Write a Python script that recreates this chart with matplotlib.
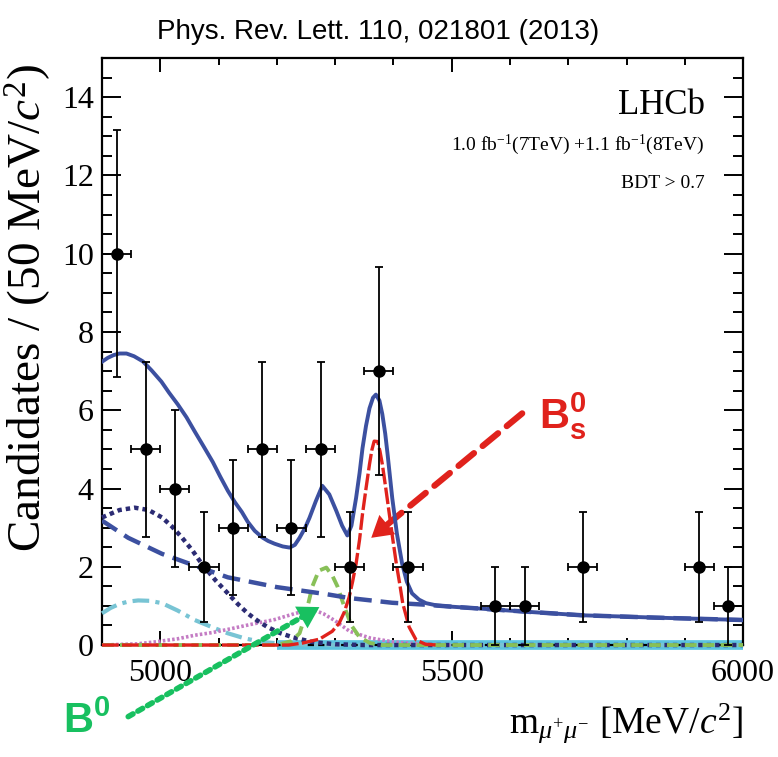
import numpy as np
import matplotlib
matplotlib.use("Agg")
import matplotlib.pyplot as plt
from matplotlib.ticker import MultipleLocator

plt.rcParams['font.family'] = ['Liberation Serif', 'DejaVu Serif']
plt.rcParams['mathtext.fontset'] = 'custom'
plt.rcParams['mathtext.rm'] = 'Liberation Serif'
plt.rcParams['mathtext.it'] = 'Liberation Serif:italic'
plt.rcParams['mathtext.bf'] = 'Liberation Sans:bold'

# 数据点 (50 MeV 一个bin)
bin_centers = [4925, 4975, 5025, 5075, 5125, 5175, 5225, 5275, 5325, 5375,
               5425, 5575, 5625, 5725, 5925, 5975]
counts = [10, 5, 4, 2, 3, 5, 3, 5, 2, 7, 2, 1, 1, 2, 2, 1]
count_err = [3.16, 2.24, 2.0, 1.41, 1.73, 2.24, 1.73, 2.24, 1.41, 2.65,
             1.41, 1.0, 1.0, 1.41, 1.41, 1.0]
bin_half = [25] * len(bin_centers)

# 总拟合曲线
total_x = [4900, 4910, 4920, 4930, 4942, 4955, 4970, 4985, 5002, 5015, 5030,
           5045, 5059, 5075, 5090, 5103, 5116, 5128, 5140, 5150, 5162, 5175,
           5185, 5196, 5210, 5222, 5231, 5239, 5248, 5256, 5267, 5278, 5290,
           5302, 5312, 5321, 5328, 5336, 5342, 5347, 5353, 5359, 5365, 5370,
           5376, 5381, 5386, 5390, 5398, 5406, 5415, 5423, 5432, 5444, 5456,
           5475, 5500, 5550, 5600, 5660, 5724, 5790, 5850, 5925, 6000]
total_y = [7.24, 7.34, 7.41, 7.45, 7.45, 7.38, 7.25, 7.02, 6.73, 6.45, 6.15,
           5.82, 5.46, 5.06, 4.68, 4.30, 3.94, 3.65, 3.40, 3.15, 2.92, 2.75,
           2.66, 2.59, 2.52, 2.49, 2.56, 2.74, 2.98, 3.25, 3.68, 4.07, 3.85,
           3.43, 3.05, 2.80, 3.05, 3.76, 4.40, 5.03, 5.60, 6.05, 6.32, 6.40,
           6.25, 5.90, 5.40, 4.88, 3.76, 2.85, 2.08, 1.62, 1.32, 1.16, 1.07,
           1.01, 0.98, 0.93, 0.88, 0.82, 0.76, 0.73, 0.70, 0.67, 0.64]

# 组合本底 (长虚线)
comb_x = [4900, 4945, 5003, 5059, 5116, 5153, 5200, 5285, 5325, 5398, 5456,
          5500, 5600, 5724, 5850, 6000]
comb_y = [3.18, 2.74, 2.33, 2.03, 1.73, 1.62, 1.48, 1.30, 1.20, 1.08, 1.03,
          0.98, 0.88, 0.76, 0.70, 0.64]

# 深蓝点线
semi_x = [4900, 4930, 4956, 4980, 5003, 5020, 5037, 5055, 5071, 5095, 5116,
          5133, 5150, 5167, 5184, 5205, 5227, 5260, 5300, 5350, 6000]
semi_y = [3.26, 3.45, 3.51, 3.45, 3.26, 3.03, 2.75, 2.42, 2.08, 1.65, 1.32,
          1.05, 0.81, 0.62, 0.46, 0.31, 0.20, 0.08, 0.02, 0.0, 0.0]

# 青色点划线
cyan_x = [4900, 4915, 4930, 4945, 4962, 4982, 5003, 5030, 5059, 5090, 5116,
          5145, 5174, 5220, 5260, 6000]
cyan_y = [0.81, 0.95, 1.05, 1.11, 1.14, 1.13, 1.07, 0.88, 0.64, 0.45, 0.30,
          0.17, 0.08, 0.02, 0.0, 0.0]

# 紫色点线
mag_x = [4900, 4960, 4991, 5030, 5059, 5090, 5116, 5153, 5196, 5230, 5245,
         5256, 5268, 5280, 5300, 5325, 5360, 5400, 5450, 5500]
mag_y = [0.0, 0.03, 0.08, 0.16, 0.25, 0.32, 0.40, 0.52, 0.65, 0.80, 0.86,
         0.89, 0.87, 0.80, 0.62, 0.35, 0.18, 0.08, 0.02, 0.0]

# B0 信号 (绿色)
bd_x = [4900, 5200, 5225, 5239, 5250, 5261, 5272, 5285, 5296, 5304, 5316,
        5328, 5342, 5360, 5380, 6000]
bd_y = [0.0, 0.0, 0.10, 0.30, 0.81, 1.50, 1.90, 1.98, 1.75, 1.50, 0.97,
        0.50, 0.20, 0.05, 0.0, 0.0]

# Bs 信号 (红色)
bs_x = [4900, 5220, 5244, 5273, 5295, 5307, 5316, 5324, 5330, 5336, 5342,
        5347, 5353, 5359, 5363, 5367, 5373, 5377, 5381, 5387, 5393, 5399,
        5405, 5411, 5416, 5427, 5439, 5455, 5475]
bs_y = [0.0, 0.0, 0.05, 0.15, 0.35, 0.56, 0.85, 1.22, 1.62, 2.08, 2.70,
        3.35, 4.00, 4.62, 4.98, 5.21, 5.20, 4.95, 4.62, 4.00, 3.35, 2.70,
        2.08, 1.55, 1.07, 0.46, 0.13, 0.02, 0.0]

# 零线上的其它本底
band_x = [5200, 6000]
band_y = [0.0, 0.0]

# 箭头位置 (数据坐标)
bs_tip, bs_tail = (5362, 2.74), (5621, 5.92)
bd_tip, bd_tail = (5273, 0.97), (4945, -1.83)

blue = '#3c50a0'
red = '#e0221c'
green = '#18c060'

fig = plt.figure(figsize=(7.78, 7.57), dpi=100)
ax = fig.add_axes([0.1311, 0.1479, 0.824, 0.7754])

ax.plot(band_x, band_y, color='#5cc4e0', lw=7, solid_capstyle='butt',
        clip_on=False, zorder=2)
ax.plot(cyan_x, cyan_y, color='#78c4d4', lw=3, ls=(0, (4, 1.5, 1, 1.5)),
        clip_on=False, zorder=3)
ax.plot(mag_x, mag_y, color='#c47cc4', lw=2.6, ls=(0, (0.7, 0.6)),
        clip_on=False, zorder=3)
ax.plot(semi_x, semi_y, color='#2c2c74', lw=3.2, ls=(0, (1, 0.9)),
        clip_on=False, zorder=3)
ax.plot(bd_x, bd_y, color='#88c058', lw=2.8, ls=(0, (3, 1.6)),
        clip_on=False, zorder=3)
ax.plot(bs_x, bs_y, color=red, lw=2.4, ls=(0, (5, 1)),
        clip_on=False, zorder=3)
ax.plot(comb_x, comb_y, color=blue, lw=3.2, ls=(0, (4, 2)), zorder=3)
ax.plot(total_x, total_y, color=blue, lw=2.8, solid_joinstyle='round',
        zorder=4)

ax.errorbar(bin_centers, counts, yerr=count_err, xerr=bin_half, fmt='o',
            color='black', markersize=8, elinewidth=1.3, capsize=3,
            capthick=1.3, zorder=5)

ax.set_xlim(4900, 6000)
ax.set_ylim(0, 15)
ax.xaxis.set_major_locator(MultipleLocator(500))
ax.xaxis.set_minor_locator(MultipleLocator(100))
ax.yaxis.set_major_locator(MultipleLocator(2))
ax.yaxis.set_minor_locator(MultipleLocator(0.5))
ax.tick_params(which='both', direction='in', top=True, right=True,
               width=1.4, labelsize=23)
ax.tick_params(axis='y', which='major', length=14, pad=6)
ax.tick_params(axis='y', which='minor', length=7)
ax.tick_params(axis='x', which='major', length=10, pad=10)
ax.tick_params(axis='x', which='minor', length=5)
for s in ax.spines.values():
    s.set_linewidth(1.6)

fig.text(0.035, 1 - 308 / 757, 'Candidates / (50 MeV/$c^2$)', rotation=90,
         ha='center', va='center', fontsize=34)
ax.text(1.0, -0.095, r'm$_{\mu^{+}\mu^{-}}$ [MeV/$c^2$]', transform=ax.transAxes,
        ha='right', va='top', fontsize=27)

ax.text(0.94, 0.92, 'LHCb', transform=ax.transAxes, ha='right', va='center',
        fontsize=25)
ax.text(0.94, 0.852, r'1.0 fb$^{-1}$(7TeV) +1.1 fb$^{-1}$(8TeV)',
        transform=ax.transAxes, ha='right', va='center', fontsize=14)
ax.text(0.94, 0.787, 'BDT > 0.7', transform=ax.transAxes, ha='right',
        va='center', fontsize=14)

fig.text(0.486, 1 - 32 / 757, 'Phys. Rev. Lett. 110, 021801 (2013)',
         ha='center', va='center', fontsize=20, family='Liberation Sans')

# Bs 箭头
ax.annotate('', xy=bs_tip, xytext=bs_tail,
            arrowprops=dict(arrowstyle='-', lw=4.5, ls=(0, (3.2, 1.8)),
                            color=red, shrinkA=0, shrinkB=13),
            annotation_clip=False)
ax.annotate('', xy=bs_tip, xytext=bs_tail,
            arrowprops=dict(arrowstyle='-|>,head_length=0.75,head_width=0.45',
                            mutation_scale=20, lw=0, color=red,
                            shrinkA=0, shrinkB=0),
            annotation_clip=False)
ax.text(5650, 5.85, r'$\mathbf{B^0_s}$', color=red, fontsize=30,
        ha='left', va='center')

# B0 箭头
ax.annotate('', xy=bd_tip, xytext=bd_tail,
            arrowprops=dict(arrowstyle='-', lw=4, ls=(0, (1, 1)),
                            color=green, shrinkA=0, shrinkB=12),
            annotation_clip=False)
ax.annotate('', xy=bd_tip, xytext=bd_tail,
            arrowprops=dict(arrowstyle='-|>,head_length=0.75,head_width=0.45',
                            mutation_scale=20, lw=0, color=green,
                            shrinkA=0, shrinkB=0),
            annotation_clip=False)
fig.text(63 / 778, 1 - 722 / 757, r'$\mathbf{B^0}$', color=green, fontsize=30,
         ha='left', va='center')

fig.savefig('out.png', dpi=100)
